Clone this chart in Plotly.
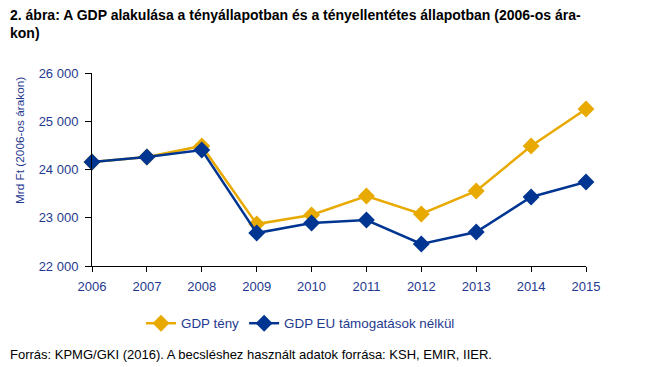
import plotly.graph_objects as go

years = [2006, 2007, 2008, 2009, 2010, 2011, 2012, 2013, 2014, 2015]
gdp_teny = [24155, 24260, 24487, 22870, 23057, 23450, 23078, 23555, 24487, 25254]
gdp_eu_nelkul = [24155, 24260, 24404, 22684, 22890, 22953, 22456, 22705, 23430, 23741]
y_ticks = [22000, 23000, 24000, 25000, 26000]
y_tick_labels = ["22 000", "23 000", "24 000", "25 000", "26 000"]

ORANGE = "#E8A900"
BLUE = "#003591"
TXT = "#1F3A8F"

PW, PH = 494, 193  # plot area size in px

fig = go.Figure()
fig.add_trace(go.Scatter(x=years, y=gdp_teny, name="GDP tény", mode="lines+markers",
                         line=dict(color=ORANGE, width=2.5),
                         marker=dict(symbol="diamond", size=13, color=ORANGE),
                         cliponaxis=False))
fig.add_trace(go.Scatter(x=years, y=gdp_eu_nelkul, name="GDP EU támogatások nélkül", mode="lines+markers",
                         line=dict(color=BLUE, width=2.5),
                         marker=dict(symbol="diamond", size=13, color=BLUE),
                         cliponaxis=False))

fig.update_layout(
    width=667, height=367,
    margin=dict(l=84, r=89, t=65, b=109),
    paper_bgcolor="white", plot_bgcolor="white",
    font=dict(family="Liberation Sans, Arial, sans-serif", size=13, color=TXT),
    showlegend=True,
    legend=dict(orientation="h", x=(141 - 92) / PW, xanchor="left", xref="paper",
                y=-42 / PH, yanchor="top", font=dict(size=13.4, color=TXT),
                traceorder="normal", itemwidth=30),
    annotations=[
        dict(text="<b>2. ábra: A GDP alakulása a tényállapotban és a tényellentétes állapotban (2006-os ára-<br>kon)</b>",
             xref="paper", yref="paper", x=-84 / PW, y=1 + 68 / PH, xanchor="left", yanchor="top",
             align="left", showarrow=False, font=dict(size=14, color="black")),
        dict(text="Forrás: KPMG/GKI (2016). A becsléshez használt adatok forrása: KSH, EMIR, IIER.",
             xref="paper", yref="paper", x=-84 / PW, y=-88 / PH, xanchor="left", yanchor="middle",
             showarrow=False, font=dict(size=13, color="black")),
        dict(text="Mrd Ft (2006-os árakon)", textangle=-90,
             xref="paper", yref="paper", x=-72 / PW, y=1 - 68 / PH, xanchor="center", yanchor="middle",
             showarrow=False, font=dict(size=11.8, color=TXT)),
    ],
)
fig.update_xaxes(range=[2006, 2015], tickmode="array", tickvals=years, ticktext=[str(y) for y in years],
                 showgrid=False, zeroline=False, showline=True, linecolor="black", linewidth=1,
                 ticks="outside", ticklen=5, tickcolor="black", tickfont=dict(size=13, color=TXT),
                 ticklabelstandoff=3)
fig.update_yaxes(range=[22000, 26000], tickmode="array", tickvals=y_ticks, ticktext=y_tick_labels,
                 showgrid=False, zeroline=False, showline=True, linecolor="black", linewidth=1,
                 ticks="outside", ticklen=6, tickcolor="black", tickfont=dict(size=13, color=TXT),
                 ticklabelstandoff=4)

fig.write_html("out.html")
